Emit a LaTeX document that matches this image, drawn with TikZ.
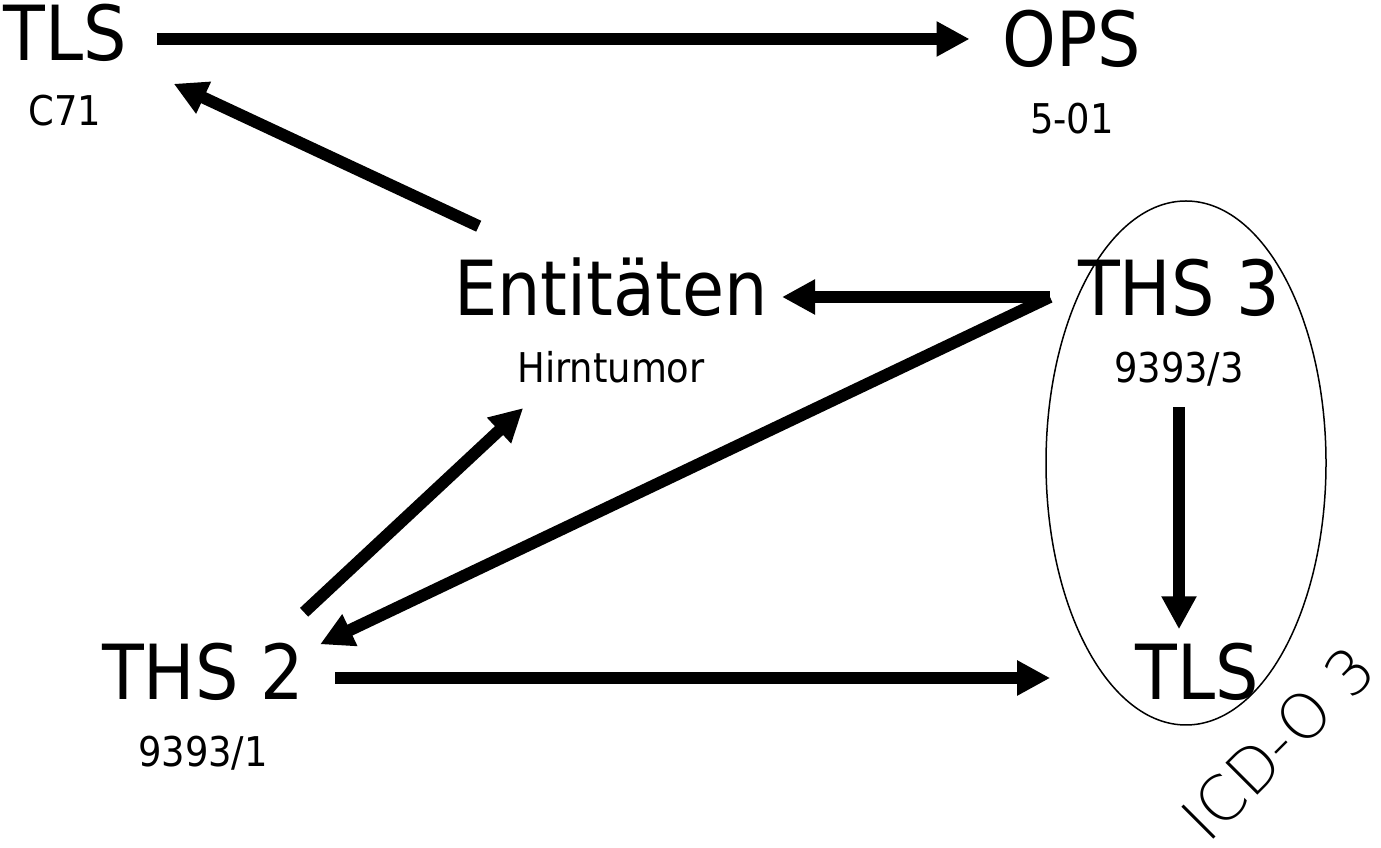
\documentclass[tikz,border=0pt]{standalone}
\usepackage{fontspec}
\setmainfont{DejaVu Sans Condensed}
\newfontfamily\icdfont{DejaVu Sans ExtraLight}
\usepackage{tikz}
\usetikzlibrary{positioning,arrows.meta}

\begin{document}
\begin{tikzpicture}[
		x=1pt, y=1pt,
		big/.style={inner sep=0pt, font=\fontsize{76}{80}\selectfont, text height=55pt, text depth=0pt},
		code/.style={inner sep=0pt, font=\fontsize{41}{44}\selectfont, text height=30pt, text depth=0pt},
		arr/.style={-{Triangle[length=33pt,width=33pt]}, line width=12pt},
		node distance=37pt,
		]
		\useasboundingbox (0,0) rectangle (1381,848);

		%Main Nodes
		\node[big]	(tls_top)	at (65,815)		{TLS};
		\node[code]	(c71)		[below=35pt of tls_top]	{C71};
		\node[big]	(ops)		at (1072,809)	{OPS};
		\node[code]	(ops_code)	[below=of ops]		{5-01};

		%Entities
		\node[big]	(ent)		at (611,560)	{Entitäten};
		\node[code]	(hirn)		[below=of ent]		{Hirntumor};

		%Topography / histology
		\node[big]	(ths3)		at (1179,560)	{THS 3};
		\node[code]	(ths3_code)	[below=of ths3]		{9393/3};
		\node[big]	(ths2)		at (203,176)	{THS 2};
		\node[code]	(ths2_code)	[below=of ths2]		{9393/1};
		\node[big]	(tls_bot)	at (1197,176)	{TLS};

		%ICD-O 3
		\draw[line width=1.5pt]	(1186,385) ellipse [x radius=140, y radius=262];
		\node[font=\icdfont\fontsize{62}{66}\selectfont, rotate=45, inner sep=0pt]	(icd)	at (1278,105)	{ICD-O 3};

		%Arrows
		\coordinate (fork) at ([shift={(-28pt,-9pt)}]ths3.west);
		\draw[arr, shorten <=30pt, shorten >=33pt]	([yshift=-6pt]tls_top.east) -- ([yshift=-6pt]tls_top.east -| ops.west);
		\draw[arr, shorten <=146pt, shorten >=120pt]	(ent.center) -- (tls_top.center);
		\draw[arr, shorten >=171pt]	(fork) -- (ent.center |- fork);
		\draw[arr]	(fork) -- ([xshift=16pt]ths2.north east);
		\draw[arr, shorten <=24pt, shorten >=15pt]	(ths3_code.south) -- (ths3_code.south |- tls_bot.north);
		\draw[arr, shorten <=31pt, shorten >=85pt]	([yshift=-6pt]ths2.east) -- ([yshift=-6pt]ths2.east -| tls_bot.west);
		\draw[arr]	([yshift=32pt]ths2.north east) -- ([shift={(6pt,-25pt)}]hirn.south west);
\end{tikzpicture}
\end{document}
